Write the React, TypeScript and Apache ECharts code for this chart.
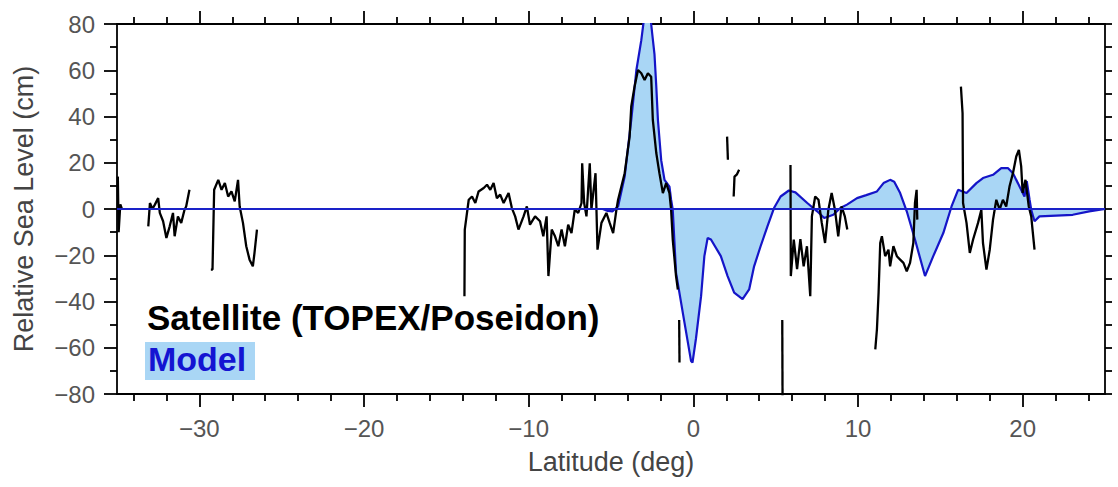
import React, { useEffect, useRef } from "react";
import * as echarts from "echarts";

// Model (latitude, relative sea level in cm)
const modelData: number[][] = [
  [-35, 0], [-5.5, 0], [-5.2, -0.8], [-4.9, -1], [-4.75, 0], [-4.57, 1.1], [-4.17, 14], [-3.77, 38.5],
  [-3.46, 60], [-3.16, 73], [-3.0, 82], [-2.8, 88], [-2.65, 86], [-2.5, 76], [-2.36, 67], [-2.25, 53],
  [-2.15, 38.5], [-1.95, 21], [-1.75, 12.6], [-1.45, 9.7], [-1.35, 4], [-1.25, -0.3], [-1.05, -27.6],
  [-0.54, -49], [-0.14, -65.7], [-0.05, -66.4], [0.16, -56], [0.47, -37.7], [0.67, -20.4], [0.87, -12.5],
  [1.07, -13.2], [1.67, -20.4], [2.08, -29], [2.48, -36.2], [2.99, -39], [3.39, -34.8], [3.69, -24.8],
  [4.09, -16], [4.5, -7.5], [4.9, 0.4], [5.3, 5.4], [5.8, 8], [6.2, 7.2], [6.92, 2.6], [7.52, -1],
  [7.95, -3.9], [8.5, -2.5], [8.93, 0.4], [9.33, 1.9], [9.94, 4.7], [10.5, 6], [11.15, 7.6], [11.55, 11.2],
  [11.95, 12.6], [12.2, 11.8], [12.56, 6.9], [12.96, -1], [13.46, -13.2], [14.07, -29], [14.57, -20.4],
  [15.18, -10.4], [15.68, 1.1], [16.08, 8.3], [16.59, 6.9], [17.19, 11.2], [17.59, 13.4], [18.2, 14.8],
  [18.7, 17.7], [19.1, 17.7], [19.41, 15.5], [19.81, 9.7], [20.11, 5.4], [20.25, 12], [20.42, 4],
  [20.52, -0.3], [20.72, -5.3], [21.02, -3.2], [23.04, -2.5], [24.04, -1], [25, 0],
];

// Satellite (TOPEX/Poseidon) track segments
const satA: number[][] = [[-34.95, 14], [-34.9, -10], [-34.8, 2], [-34.7, 0]];
const satB: number[][] = [
  [-33.1, -7.5], [-33.0, 2.6], [-32.85, 0], [-32.7, 1.9], [-32.5, 4.7], [-32.4, -1.7], [-32.2, -5.3],
  [-32.0, -12.5], [-31.8, -7.5], [-31.6, -1.7], [-31.5, -11.8], [-31.3, -3.2], [-31.1, -6], [-30.9, -0.3],
  [-30.8, 1.1], [-30.6, 8.3],
];
const satC: number[][] = [
  [-29.3, -26.2], [-29.2, -26.2], [-29.1, 8.3], [-28.85, 12.6], [-28.65, 8.3], [-28.45, 11.2],
  [-28.25, 5.4], [-28.05, 7.6], [-27.85, 3.3], [-27.65, 12.6], [-27.55, 1.1], [-27.35, -6],
  [-27.15, -16.1], [-26.95, -21.9], [-26.75, -24.8], [-26.65, -19], [-26.5, -8.9],
];
const satD: number[][] = [
  [-13.9, -37.7], [-13.88, -8.9], [-13.64, 4], [-13.44, 5.4], [-13.24, 2.6], [-13.04, 7.6], [-12.73, 9.1],
  [-12.53, 10.5], [-12.33, 8.3], [-12.13, 11.2], [-11.93, 4.7], [-11.73, 6.2], [-11.52, 2.6],
  [-11.22, 6.9], [-11.02, 0.4], [-10.82, -3.2], [-10.62, -8.9], [-10.31, -3.2], [-10.11, 1.1],
  [-9.92, -6.8], [-9.61, -3.2], [-9.31, -5.3], [-9.11, -11.8], [-8.91, -3.2], [-8.8, -29], [-8.6, -8.9],
  [-8.4, -11.8], [-8.2, -16.1], [-8.0, -8.9], [-7.8, -16.1], [-7.6, -6.8], [-7.4, -10.4], [-7.2, -0.3],
  [-6.99, -1.7], [-6.79, 2.6], [-6.75, 19.8], [-6.63, 2.6], [-6.49, -3.2], [-6.29, 19.8], [-6.19, -0.3],
  [-5.94, 15.5], [-5.82, -17.6], [-5.58, -6], [-5.28, -1.7], [-5.08, -6], [-4.87, -10.4], [-4.67, -0.3],
  [-4.57, 4], [-4.17, 15.5], [-3.87, 31.3], [-3.77, 44.3], [-3.57, 52.9], [-3.36, 60.1], [-3.16, 58.7],
  [-2.96, 55.8], [-2.76, 58.7], [-2.56, 57.2], [-2.46, 38.5], [-2.25, 24.2], [-2.06, 15.5], [-1.85, 6.9],
  [-1.65, 11.2], [-1.45, 6.9], [-1.35, -0.3], [-1.25, -13.2], [-1.05, -29], [-0.94, -34.8],
];
const satE: number[][] = [[-0.86, -48], [-0.84, -66.4]];
const satF: number[][] = [[2.05, 31.3], [2.1, 21.3]];
const satG: number[][] = [[2.45, 5.4], [2.5, 14], [2.65, 15], [2.78, 17]];
const satH: number[][] = [[5.4, -48], [5.42, -85]];
const satI: number[][] = [
  [5.9, 19], [5.92, -29], [6.1, -13.2], [6.3, -26], [6.5, -13], [6.7, -24.8], [6.9, -16.1], [7.1, -37.7],
  [7.2, -3.2], [7.4, 5.4], [7.6, 4], [7.8, -6], [8.0, -14.7], [8.2, -0.3], [8.4, 6.9], [8.6, -0.3],
  [8.8, -11.8], [9.0, 1.1], [9.2, -3.2], [9.35, -8.9],
];
const satJ: number[][] = [
  [11.05, -60.7], [11.15, -52], [11.25, -36.2], [11.35, -14.7], [11.45, -11.8], [11.65, -20.4],
  [11.85, -17.6], [11.95, -24.8], [12.15, -16.1], [12.36, -20.4], [12.56, -21.9], [12.76, -23.3],
  [12.96, -26.9], [13.16, -23.3], [13.36, -14.7], [13.46, 2.6], [13.56, 8.3], [13.6, -4.6],
];
const satK: number[][] = [
  [16.25, 52.9], [16.35, 41.4], [16.38, 2.6], [16.59, -6], [16.79, -19], [16.99, -13.2], [17.29, -6],
  [17.49, -0.3], [17.59, -14.7], [17.8, -26.2], [18.0, -17.6], [18.2, -4.6], [18.4, 4], [18.6, -0.3],
  [18.8, 4], [19.0, 1.1], [19.2, 9.7], [19.41, 15.5], [19.61, 22.7], [19.77, 25.6], [19.91, 18.4],
  [20.0, 6.9], [20.17, 12.6], [20.27, 6.9], [20.37, 1.1], [20.52, -3.2], [20.62, -10.4], [20.72, -17.6],
];
const satelliteSegments = [satA, satB, satC, satD, satE, satF, satG, satH, satI, satJ, satK];

const xMajorTicks = [-30, -20, -10, 0, 10, 20];
const xMinorTicks = [-34, -32, -28, -26, -24, -22, -18, -16, -14, -12, -8, -6, -4, -2, 2, 4, 6, 8, 12, 14, 16, 18, 22, 24];

const FONT = "'Liberation Sans', Arial, sans-serif";

export default function App() {
  const ref = useRef<HTMLDivElement>(null);
  useEffect(() => {
    if (!ref.current) return;
    const chart = echarts.init(ref.current, undefined, { renderer: "svg" });
    const lineAxis = { show: true, onZero: false, lineStyle: { color: "#000", width: 1.8 } };
    const noLine = { show: false, onZero: false };
    const tickStyle = { color: "#000", width: 1.8 };
    const xBase = { type: "value", min: -35, max: 25, splitLine: { show: false } };
    const fmt = (v: number) => String(v).replace("-", "\u2212");
    chart.setOption({
      animation: false,
      backgroundColor: "#fff",
      grid: { left: 117, right: 13, top: 24, bottom: 93 },
      xAxis: [
        {
          ...xBase, position: "bottom", axisLine: lineAxis,
          axisTick: { show: true, length: 13, customValues: xMajorTicks, lineStyle: tickStyle },
          axisLabel: { show: true, customValues: xMajorTicks, formatter: fmt, margin: 22, color: "#555", fontSize: 24, fontFamily: FONT },
          name: "Latitude (deg)", nameLocation: "middle", nameGap: 54,
          nameTextStyle: { color: "#444", fontSize: 27, fontFamily: FONT },
        },
        {
          ...xBase, position: "bottom", axisLine: noLine,
          axisTick: { show: true, length: 7, customValues: xMinorTicks, lineStyle: tickStyle },
          axisLabel: { show: false },
        },
        {
          ...xBase, position: "top", axisLine: lineAxis,
          axisTick: { show: true, length: 13, customValues: xMajorTicks, lineStyle: tickStyle },
          axisLabel: { show: false },
        },
        {
          ...xBase, position: "top", axisLine: noLine,
          axisTick: { show: true, length: 7, customValues: xMinorTicks, lineStyle: tickStyle },
          axisLabel: { show: false },
        },
      ],
      yAxis: [
        {
          type: "value", min: -80, max: 80, interval: 20, position: "left", axisLine: lineAxis,
          splitLine: { show: false },
          axisTick: { show: true, length: 13, lineStyle: tickStyle },
          minorTick: { show: true, splitNumber: 2, length: 7, lineStyle: tickStyle },
          axisLabel: { formatter: fmt, margin: 22, color: "#555", fontSize: 24, fontFamily: FONT },
          name: "Relative Sea Level (cm)", nameLocation: "middle", nameGap: 80,
          nameTextStyle: { color: "#444", fontSize: 27, fontFamily: FONT },
        },
        {
          type: "value", min: -80, max: 80, interval: 20, position: "right", axisLine: lineAxis,
          splitLine: { show: false },
          axisTick: { show: true, length: 7, lineStyle: tickStyle },
          minorTick: { show: true, splitNumber: 2, length: 7, lineStyle: tickStyle },
          axisLabel: { show: false },
        },
      ],
      series: [
        {
          type: "line", name: "Model", data: modelData, symbol: "none", z: 2,
          lineStyle: { color: "#1515c8", width: 2.2 },
          areaStyle: { color: "#a9d6f5", opacity: 1, origin: 0 },
          markLine: {
            silent: true, symbol: "none", label: { show: false },
            lineStyle: { color: "#1a22c8", width: 2, type: "solid" },
            data: [{ yAxis: 0 }],
          },
        },
        ...satelliteSegments.map((seg, i) => ({
          type: "line", name: "Satellite" + i, data: seg, symbol: "none", z: 3,
          lineStyle: { color: "#000", width: 2.3 },
        })),
      ],
      graphic: [
        { type: "rect", left: 145, top: 342, shape: { width: 110, height: 38 }, style: { fill: "#a9d6f5" }, z: 10 },
        {
          type: "text", left: 148, top: 342,
          style: { text: "Model", fill: "#1414d2", font: `bold 34px ${FONT}` }, z: 11,
        },
        {
          type: "text", left: 147, top: 300,
          style: { text: "Satellite (TOPEX/Poseidon)", fill: "#000", font: `bold 35px ${FONT}` }, z: 11,
        },
      ],
    });
    return () => chart.dispose();
  }, []);
  return <div ref={ref} style={{ position: "fixed", left: 0, top: 0, width: 1118, height: 487 }} />;
}
